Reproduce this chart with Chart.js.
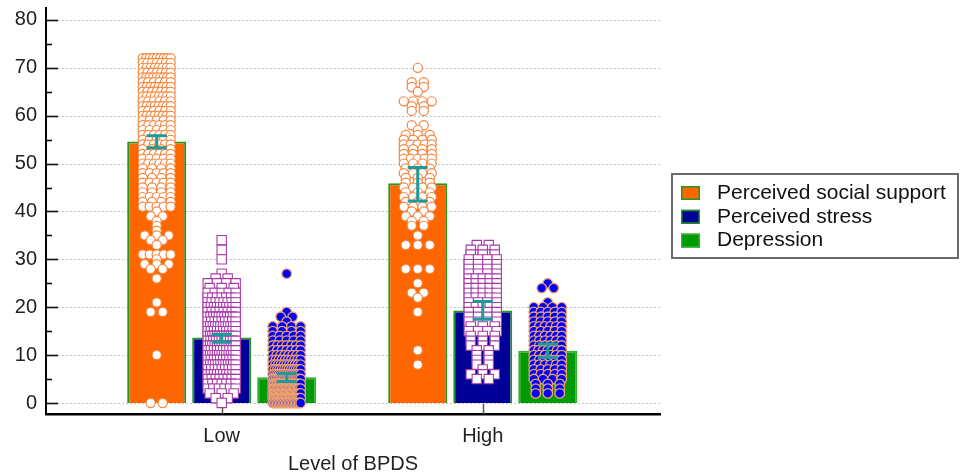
<!DOCTYPE html>
<html>
<head>
<meta charset="utf-8">
<script src="https://cdn.jsdelivr.net/npm/chart.js@4/dist/chart.umd.min.js"></script>
<style>
html,body{margin:0;padding:0;background:#fff;}
#wrap{width:963px;height:472px;}
</style>
</head>
<body>
<div id="wrap"><canvas id="c" width="963" height="472"></canvas></div>
<script>
// ---------- DATA ----------
const categories = ['Low', 'High'];
const seriesNames = ['Perceived social support', 'Perceived stress', 'Depression'];
const yTickValues = [0, 10, 20, 30, 40, 50, 60, 70, 80];
const xAxisTitle = 'Level of BPDS';

// bar heights (means)
const socialSupportMean = [54.6, 45.9];
const perceivedStressMean = [13.7, 19.3];
const depressionMean = [5.4, 10.9];

// error bars (lower / upper)
const socialSupportErrLow = [53.3, 42.2];
const socialSupportErrHigh = [55.8, 49.2];
const perceivedStressErrLow = [12.7, 17.5];
const perceivedStressErrHigh = [14.3, 21.2];
const depressionErrLow = [4.5, 9.5];
const depressionErrHigh = [6.1, 12.3];

// individual observations
const socialSupportLowGroup = [
72,72,72,72,72,72,72,72,72, 71,71,71,71,71,71,71, 70,70,70,70,70,70,70,70, 69,69,69,69,69,69,69,
68,68,68,68,68,68,68,68,68, 67,67,67,67,67,67, 66,66,66,66,66,66,66,66, 65,65,65,65,65,65,65,
64,64,64,64,64,64,64,64, 63,63,63,63,63,63, 62,62,62,62,62,62,62,62, 61,61,61,61,61,61,
60,60,60,60,60,60,60,60, 59,59,59,59,59, 58,58,58,58,58,58, 57,57,57,57,57, 56,56,56,56,56,56,
55,55,55,55,55, 54,54,54,54,54,54, 53,53,53,53, 52,52,52,52,52,52, 51,51,51,51,51, 50,50,50,50,50,50,
49,49,49,49, 48,48,48,48,48, 47,47,47,47, 46,46,46,46,46, 45,45,45,45, 44,44,44,44, 43,43,43,43,43,
42,42,42,42, 41,41,41,41,41, 40, 39,39, 38, 37, 36, 35,35,35, 34,34, 33, 31,31,31,31,31, 30,
29,29,29, 28,28, 26, 21, 19,19, 10, 0,0
];
const socialSupportHighGroup = [
70, 67,67, 66,66, 65, 63,63,63,63, 62,62, 61,61, 58,58, 57, 56,56,56, 55,55,55,55, 54,54,54,54,54,
53,53,53,53, 52,52,52,52, 51,51,51,51,51, 50,50,50,50, 49,49,49, 48,48,48,48, 47,47,47, 46,46,46,
45,45,45,45, 44,44,44, 43,43,43,43, 42,42,42, 41,41,41,41, 40,40, 39,39,39, 38,38, 37,37, 35,
33,33,33, 28,28,28, 25, 23,23, 22, 19, 11, 8
];
const perceivedStressLowGroup = [
34, 32, 30, 27, 26,26, 25,25,25,25, 24,24,24, 23,23,23,23,23, 22,22,22,22,22,22,22,
21,21,21,21,21,21,21,21, 20,20,20,20,20,20,20,20,20,20, 19,19,19,19,19,19,19,19,
18,18,18,18,18,18,18,18,18,18,18, 17,17,17,17,17,17,17,17,17, 16,16,16,16,16,16,16,16,16,16,16,16,
15,15,15,15,15,15,15,15,15,15, 14,14,14,14,14,14,14,14,14,14,14,14,14, 13,13,13,13,13,13,13,13,13,13,13,
12,12,12,12,12,12,12,12,12,12,12,12,12, 11,11,11,11,11,11,11,11,11,11,
10,10,10,10,10,10,10,10,10,10,10,10,10, 9,9,9,9,9,9,9,9,9,9, 8,8,8,8,8,8,8,8,8,8,8,8,
7,7,7,7,7,7,7,7,7, 6,6,6,6,6,6,6,6,6,6, 5,5,5,5,5,5,5,5, 4,4,4,4,4,4,4, 3,3,3,3,3,3,
2,2,2, 1,1, 0
];
const perceivedStressHighGroup = [
33,33, 32,32,32, 31,31,31, 30,30,30,30, 29,29,29,29, 28,28,28,28, 27,27,27,27, 26,26,26,26,26,
25,25,25,25,25, 24,24,24,24,24, 23,23,23,23,23, 22,22,22,22,22, 21,21,21,21, 20,20,20,20,20,
19,19,19,19, 18,18,18,18, 17,17,17,17, 16,16,16, 15,15,15,15, 14,14,14, 13,13,13, 12,12,12,
11,11, 10,10, 9,9, 8,8, 7, 6,6,6, 5,5
];
const depressionLowGroup = [
27, 19, 18,18, 17, 16,16,16,16, 15,15,15,15, 14,14,14,14,14, 13,13,13,13,13, 12,12,12,12,12,12,12,
11,11,11,11,11,11,11, 10,10,10,10,10,10,10,10, 9,9,9,9,9,9,9,9,9,9, 8,8,8,8,8,8,8,8,8,8,8,
7,7,7,7,7,7,7,7,7,7,7,7,7, 6,6,6,6,6,6,6,6,6,6,6,6,6,6,6,6,
5,5,5,5,5,5,5,5,5,5,5,5,5,5,5,5,5,5, 4,4,4,4,4,4,4,4,4,4,4,4,4,4,4,4,4,4,4,4,
3,3,3,3,3,3,3,3,3,3,3,3,3,3,3,3,3,3,3,3,3,3, 2,2,2,2,2,2,2,2,2,2,2,2,2,2,2,2,2,2,2,2,2,2,2,2,
1,1,1,1,1,1,1,1,1,1,1,1,1,1,1,1,1,1,1,1,1,1, 0,0,0,0,0,0,0,0,0,0,0,0,0,0,0,0,0,0,0,0
];
const depressionHighGroup = [
25, 24,24, 21, 20,20,20,20, 19,19,19,19,19, 18,18,18,18,18, 17,17,17,17,17, 16,16,16,16,16,16,
15,15,15,15,15, 14,14,14,14,14,14, 13,13,13,13,13,13, 12,12,12,12,12,12, 11,11,11,11,11,11,11,
10,10,10,10,10,10, 9,9,9,9,9,9, 8,8,8,8,8,8, 7,7,7,7,7, 6,6,6,6,6, 5,5,5,5, 4,4,4, 3,3,3, 2,2,2
];

// ---------- BUILD ----------
const CAT_PCT = 0.747, BAR_PCT = 0.908;
const SLOT = CAT_PCT / 3;
const STEP_MAX = 0.046, SPREAD_MAX = 0.107;

function swarm(values, catIndex, seriesIndex) {
  const cx = (catIndex + 1) + (seriesIndex - 1) * SLOT;
  const pts = [];
  let i = 0;
  while (i < values.length) {
    let j = i;
    while (j < values.length && values[j] === values[i]) j++;
    const n = j - i;
    const step = n > 1 ? Math.min(STEP_MAX, SPREAD_MAX / (n - 1)) : 0;
    for (let k = 0; k < n; k++) pts.push({x: cx + (k - (n - 1) / 2) * step, y: values[i]});
    i = j;
  }
  return pts;
}

const means = [socialSupportMean, perceivedStressMean, depressionMean];
const errLow = [socialSupportErrLow, perceivedStressErrLow, depressionErrLow];
const errHigh = [socialSupportErrHigh, perceivedStressErrHigh, depressionErrHigh];
const groups = [
  [socialSupportLowGroup, socialSupportHighGroup],
  [perceivedStressLowGroup, perceivedStressHighGroup],
  [depressionLowGroup, depressionHighGroup]
];

const barFill = ['#ff6600', '#000099', '#009900'];
const barBorder = ['#1f9a1f', '#1f9a1f', '#2fb02f'];

const datasets = [];
seriesNames.forEach((name, s) => {
  datasets.push({
    type: 'bar', label: name,
    data: categories.map((c, i) => ({x: i + 1, y: means[s][i]})),
    backgroundColor: barFill[s], borderColor: barBorder[s], borderWidth: 2,
    categoryPercentage: CAT_PCT, barPercentage: BAR_PCT, order: 10
  });
});
const pointStyles = [
  {pointStyle: 'circle', pointRadius: 4.6, pointBackgroundColor: '#ffffff', pointBorderColor: '#f7843a', pointBorderWidth: 1.2},
  {pointStyle: 'rect', pointRadius: 6.6, pointBackgroundColor: '#ffffff', pointBorderColor: '#a83aa8', pointBorderWidth: 1.1},
  {pointStyle: 'circle', pointRadius: 4.8, pointBackgroundColor: '#0000ff', pointBorderColor: '#f4a468', pointBorderWidth: 1.3}
];
seriesNames.forEach((name, s) => {
  categories.forEach((c, i) => {
    datasets.push(Object.assign({
      type: 'scatter', label: name + ' ' + c,
      data: swarm(groups[s][i], i, s), order: 0, clip: false,
      pointHoverRadius: 5
    }, pointStyles[s]));
  });
});

// ---------- PLUGINS ----------
const FONT = '"Liberation Sans", Arial, sans-serif';

const axisDecor = {
  id: 'axisDecor',
  beforeDatasetsDraw(chart) {
    const {ctx, chartArea: ca} = chart;
    const ys = chart.scales.y, xs = chart.scales.x;
    ctx.save();
    ctx.strokeStyle = '#c4c4c4'; ctx.lineWidth = 1; ctx.setLineDash([2, 2]);
    yTickValues.forEach(v => {
      const py = Math.round(ys.getPixelForValue(v)) + 0.5;
      ctx.beginPath(); ctx.moveTo(ca.left + 12, py); ctx.lineTo(ca.right, py); ctx.stroke();
    });
    ctx.setLineDash([]);
    ctx.strokeStyle = '#111'; ctx.lineWidth = 1.6;
    yTickValues.forEach((v, k) => {
      const py = Math.round(ys.getPixelForValue(v)) + 0.5;
      ctx.beginPath(); ctx.moveTo(ca.left, py); ctx.lineTo(ca.left + 12, py); ctx.stroke();
      if (k < yTickValues.length - 1) {
        const pm = Math.round(ys.getPixelForValue((v + yTickValues[k + 1]) / 2)) + 0.5;
        ctx.beginPath(); ctx.moveTo(ca.left, pm); ctx.lineTo(ca.left + 6, pm); ctx.stroke();
      }
    });
    ctx.strokeStyle = '#555'; ctx.lineWidth = 1.5;
    categories.forEach((c, i) => {
      const px = Math.round(xs.getPixelForValue(i + 1)) + 0.5;
      ctx.beginPath(); ctx.moveTo(px, ca.bottom); ctx.lineTo(px, ca.bottom - 10); ctx.stroke();
    });
    ctx.restore();
  }
};

const errorBars = {
  id: 'errorBars',
  afterDatasetsDraw(chart) {
    const {ctx} = chart;
    const ys = chart.scales.y;
    ctx.save();
    ctx.strokeStyle = '#1f9a9a'; ctx.lineWidth = 3;
    for (let s = 0; s < seriesNames.length; s++) {
      const meta = chart.getDatasetMeta(s);
      meta.data.forEach((bar, i) => {
        const x = bar.x;
        const y1 = ys.getPixelForValue(errHigh[s][i]);
        const y2 = ys.getPixelForValue(errLow[s][i]);
        ctx.beginPath();
        ctx.moveTo(x, y1); ctx.lineTo(x, y2);
        ctx.moveTo(x - 10, y1); ctx.lineTo(x + 10, y1);
        ctx.moveTo(x - 10, y2); ctx.lineTo(x + 10, y2);
        ctx.stroke();
      });
    }
    ctx.restore();
  }
};

const boxLegend = {
  id: 'boxLegend',
  afterDraw(chart) {
    const {ctx} = chart;
    const bx = 672, by = 174, bw = 286, bh = 84;
    ctx.save();
    ctx.strokeStyle = '#6a6a6a'; ctx.lineWidth = 2;
    ctx.strokeRect(bx, by, bw, bh);
    ctx.font = '21px ' + FONT;
    ctx.textBaseline = 'middle'; ctx.textAlign = 'left';
    seriesNames.forEach((name, s) => {
      const cy = 193 + s * 23.8;
      ctx.fillStyle = barFill[s];
      ctx.fillRect(681, cy - 7, 19, 14);
      ctx.strokeStyle = barBorder[s]; ctx.lineWidth = 1.5;
      ctx.strokeRect(681.75, cy - 6.25, 17.5, 12.5);
      ctx.fillStyle = '#111';
      ctx.fillText(name, 717, cy);
    });
    ctx.restore();
  }
};

// ---------- CHART ----------
new Chart(document.getElementById('c'), {
  type: 'bar',
  data: {datasets},
  plugins: [axisDecor, errorBars, boxLegend],
  options: {
    responsive: false, animation: false, devicePixelRatio: 1,
    layout: {padding: {left: 0, right: 303, top: 8, bottom: 0}},
    plugins: {legend: {display: false}, tooltip: {enabled: false}},
    scales: {
      x: {
        type: 'linear', min: 0.327, max: 2.679, bounds: 'data', offset: false,
        grid: {display: false, drawTicks: false, offset: false},
        border: {display: true, color: '#000', width: 2.5},
        afterBuildTicks: s => { s.ticks = categories.map((c, i) => ({value: i + 1})); },
        afterFit: s => { s.height = 58; s.paddingLeft = 0; s.paddingRight = 0; },
        ticks: {
          autoSkip: false, maxRotation: 0, padding: 10, color: '#222',
          font: {family: FONT, size: 20},
          callback: (v, idx) => categories[idx]
        },
        title: {display: true, text: xAxisTitle, color: '#222', font: {family: FONT, size: 20, lineHeight: 0.8}, padding: {top: 0, bottom: 0}}
      },
      y: {
        type: 'linear', min: -2.3, max: 82.5, bounds: 'data',
        grid: {display: false, drawTicks: false},
        border: {display: true, color: '#000', width: 2},
        afterBuildTicks: s => { s.ticks = yTickValues.map(v => ({value: v})); },
        afterFit: s => { s.width = 46; s.paddingTop = 0; s.paddingBottom = 0; },
        ticks: {padding: 9, color: '#222', font: {family: FONT, size: 20}}
      }
    }
  }
});
</script>
</body>
</html>
